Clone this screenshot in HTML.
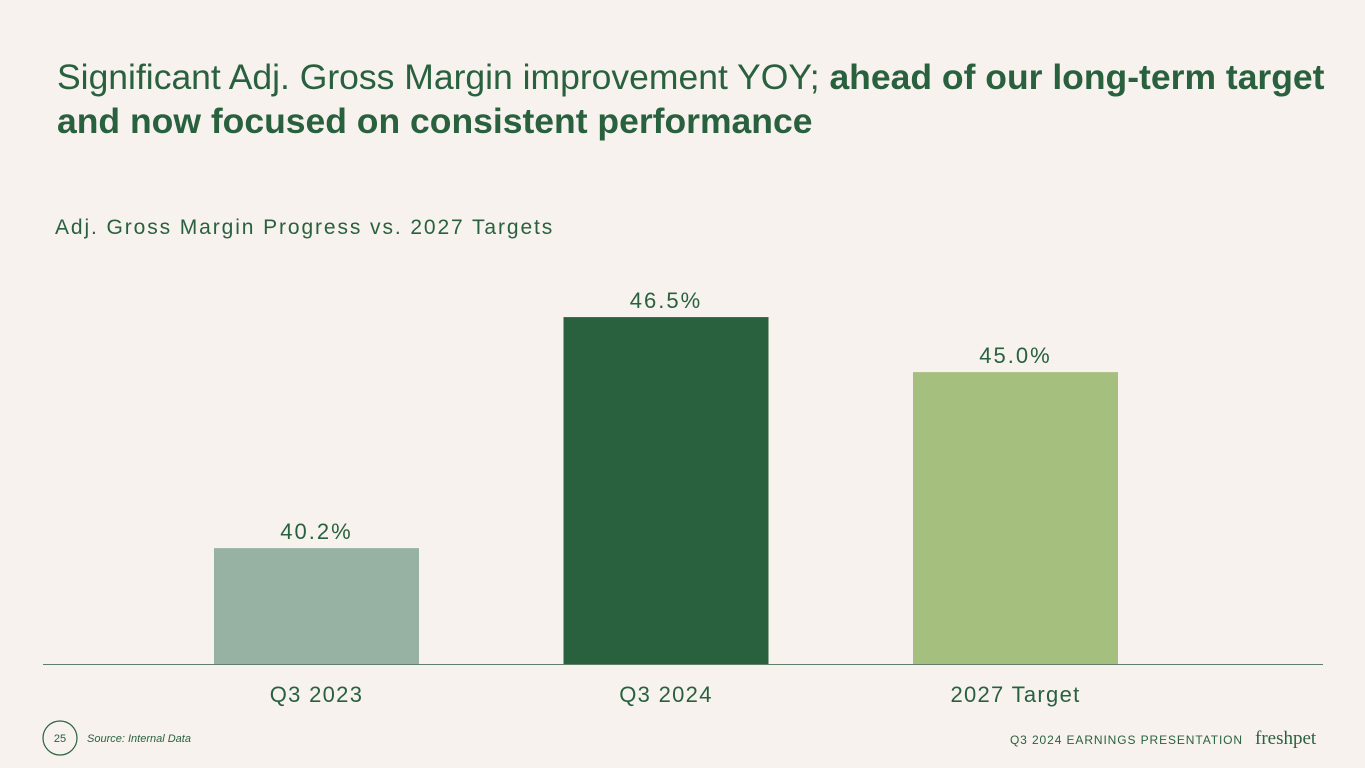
<!DOCTYPE html>
<html><head><meta charset="utf-8"><style>
body{margin:0;width:1365px;height:768px;background:#f7f2ee;font-family:"Liberation Sans",sans-serif;overflow:hidden;position:relative;color:#29613f}
.t{position:absolute;left:57px;top:55px;font-size:35.5px;line-height:44px;white-space:nowrap}
.sub{position:absolute;left:55px;top:216px;font-size:21px;letter-spacing:1.9px}
svg{position:absolute;left:0;top:0}
</style></head><body>
<div class="t">Significant Adj. Gross Margin improvement YOY; <b>ahead of our long-term target</b><br><b>and now focused on consistent performance</b></div>
<div class="sub">Adj. Gross Margin Progress vs. 2027 Targets</div>
<svg id="c" width="1365" height="768">
<line x1="43" x2="1323" y1="664.5" y2="664.5" stroke="#5f7f6b" stroke-width="1"/>
<circle cx="60" cy="738" r="17" fill="none" stroke="#29613f" stroke-width="1.2"/>
<text x="60" y="742" font-size="11" text-anchor="middle" fill="#29613f">25</text>
<text x="87" y="742" font-size="11" font-style="italic" fill="#29613f">Source: Internal Data</text>
<text x="1243" y="744" font-size="12" letter-spacing="0.9" text-anchor="end" fill="#29613f">Q3 2024 EARNINGS PRESENTATION</text>
<text x="1255" y="744" font-size="19" fill="#29613f" font-family="Liberation Serif, serif">freshpet</text>
</svg>
<script>
const categories=["Q3 2023","Q3 2024","2027 Target"];
const values=[40.2,46.5,45.0];
const labels=["40.2%","46.5%","45.0%"];
const colors=["#97b1a2","#29613f","#a5bf7f"];
const svg=document.getElementById('c');
const NS="http://www.w3.org/2000/svg";
const y0=664,pxPer=36.67,vmin=37.04;
function yScale(v){return y0-(v-vmin)*pxPer;}
function xCenter(i){return 316.5+i*349.5;}
const bw=205;
categories.forEach((c,i)=>{
  const r=document.createElementNS(NS,'rect');
  r.setAttribute('x',xCenter(i)-bw/2);r.setAttribute('width',bw);
  r.setAttribute('y',yScale(values[i]));r.setAttribute('height',y0-yScale(values[i]));
  r.setAttribute('fill',colors[i]);
  
  
  svg.appendChild(r);
  const t=document.createElementNS(NS,'text');
  t.setAttribute('x',xCenter(i));t.setAttribute('y',yScale(values[i])-9);
  t.setAttribute('text-anchor','middle');t.setAttribute('font-size','22');t.setAttribute('letter-spacing','2');t.setAttribute('fill','#29613f');
  t.textContent=labels[i];
  
  
  svg.appendChild(t);
  const l=document.createElementNS(NS,'text');
  l.setAttribute('x',xCenter(i));l.setAttribute('y',702);
  l.setAttribute('text-anchor','middle');l.setAttribute('font-size','22');l.setAttribute('letter-spacing','1.3');l.setAttribute('fill','#29613f');
  l.textContent=c;
  
  
  svg.appendChild(l);
});
</script>
</body></html>
